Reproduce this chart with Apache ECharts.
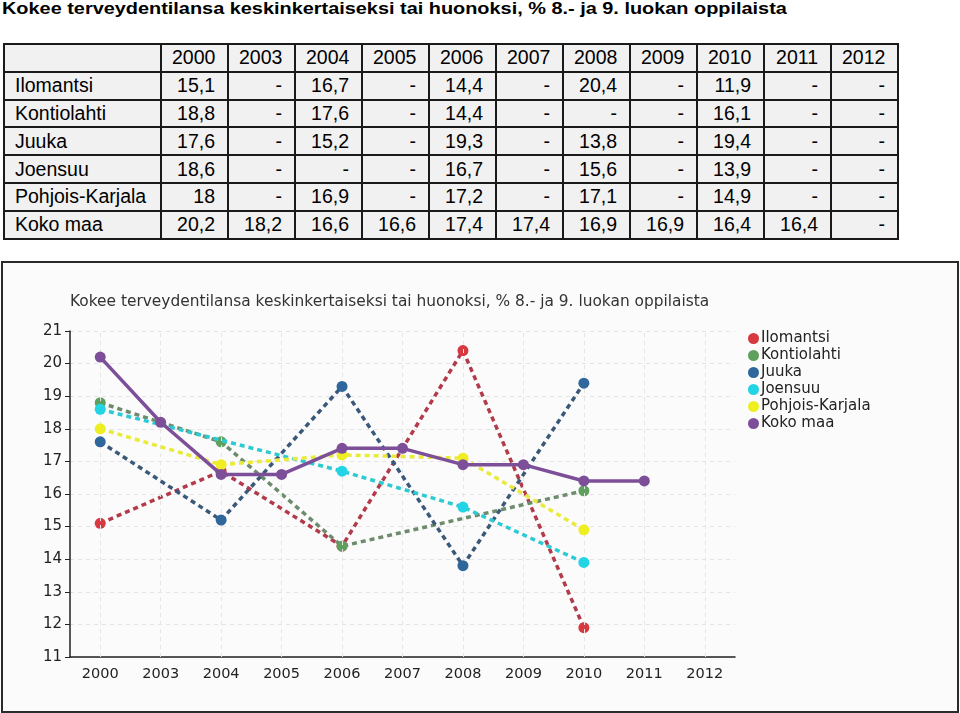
<!DOCTYPE html>
<html>
<head>
<meta charset="utf-8">
<script src="https://cdn.jsdelivr.net/npm/echarts@6/dist/echarts.min.js"></script>
<style>
  html, body { margin: 0; padding: 0; background: #fff; width: 960px; height: 713px; overflow: hidden; }
  #title { position: absolute; left: 2px; top: -1px; font: bold 17px "Liberation Sans", Arial, sans-serif; line-height: 20px; color: #000; white-space: nowrap; transform: scaleX(1.17); transform-origin: 0 0; }
  #tbl { position: absolute; left: 3px; top: 43px; width: 894px; border-collapse: collapse; table-layout: fixed; font: 19.5px "Liberation Sans", Arial, sans-serif; color: #000; }
  #tbl td { border: 2px solid #1a1a1a; background: #f1f1f1; height: 25.8px; padding: 0 12px 0 10px; text-align: right; white-space: nowrap; line-height: 25px; overflow: hidden; }
  #tbl td.name { text-align: left; }
  #box { position: absolute; left: 1px; top: 261px; width: 958px; height: 452px; border: 2px solid #2a2a2a; box-sizing: border-box; background: #fbfbfb; }
  #chart { width: 954px; height: 448px; }
</style>
</head>
<body>
<div id="title">Kokee terveydentilansa keskinkertaiseksi tai huonoksi, % 8.- ja 9. luokan oppilaista</div>
<table id="tbl"></table>
<div id="box"><div id="chart"></div></div>
<script>
const chartTitle = 'Kokee terveydentilansa keskinkertaiseksi tai huonoksi, % 8.- ja 9. luokan oppilaista';
const years = ['2000','2003','2004','2005','2006','2007','2008','2009','2010','2011','2012'];
const seriesNames = ['Ilomantsi','Kontiolahti','Juuka','Joensuu','Pohjois-Karjala','Koko maa'];
const ilomantsi   = [15.1, null, 16.7, null, 14.4, null, 20.4, null, 11.9, null, null];
const kontiolahti = [18.8, null, 17.6, null, 14.4, null, null, null, 16.1, null, null];
const juuka       = [17.6, null, 15.2, null, 19.3, null, 13.8, null, 19.4, null, null];
const joensuu     = [18.6, null, null, null, 16.7, null, 15.6, null, 13.9, null, null];
const pohjoisKarjala = [18, null, 16.9, null, 17.2, null, 17.1, null, 14.9, null, null];
const kokoMaa     = [20.2, 18.2, 16.6, 16.6, 17.4, 17.4, 16.9, 16.9, 16.4, 16.4, null];
const yTicks = [11,12,13,14,15,16,17,18,19,20,21];

const allData = [ilomantsi, kontiolahti, juuka, joensuu, pohjoisKarjala, kokoMaa];
const markerColors = ['#d8383f', '#5fa05f', '#2f669c', '#22d4e4', '#eeee22', '#7d4f98'];
const lineColors   = ['#b23a4a', '#6d8c6d', '#3a5878', '#2ccad2', '#eaea3a', '#7d4f98'];
const dashed = [true, true, true, true, true, false];

// Build table
const tbl = document.getElementById('tbl');
const colg = document.createElement('colgroup');
let c0 = document.createElement('col'); c0.style.width = '157px'; colg.appendChild(c0);
years.forEach(() => { const c = document.createElement('col'); c.style.width = '67px'; colg.appendChild(c); });
tbl.appendChild(colg);
const fmt = v => v === null ? '-' : String(v).replace('.', ',');
let hr = document.createElement('tr');
let th0 = document.createElement('td'); th0.className = 'name'; hr.appendChild(th0);
years.forEach(y => { const td = document.createElement('td'); td.textContent = y; hr.appendChild(td); });
tbl.appendChild(hr);
seriesNames.forEach((n, i) => {
  const tr = document.createElement('tr');
  const tdn = document.createElement('td'); tdn.className = 'name'; tdn.textContent = n; tr.appendChild(tdn);
  allData[i].forEach(v => { const td = document.createElement('td'); td.textContent = fmt(v); tr.appendChild(td); });
  tbl.appendChild(tr);
});

const chart = echarts.init(document.getElementById('chart'), null, { renderer: 'canvas' });
const font = '"DejaVu Sans", Verdana, sans-serif';
const series = seriesNames.map((n, i) => ({
  name: n, type: 'line', data: allData[i], connectNulls: true,
  symbol: 'circle', symbolSize: 11,
  itemStyle: { color: markerColors[i] },
  lineStyle: { color: lineColors[i], width: 3.5, type: dashed[i] ? [5, 4] : 'solid' },
  z: 3 + i
}));
// vertical dashed grid lines at category centres
series.push({
  name: 'grid', type: 'line', data: years.map(() => null), silent: true, z: 1,
  markLine: {
    silent: true, symbol: 'none', label: { show: false },
    lineStyle: { color: '#e4e4e4', type: [4, 4], width: 1 },
    data: years.map(y => ({ xAxis: y }))
  }
});
chart.setOption({
  backgroundColor: '#fbfbfb',
  animation: false,
  title: {
    text: chartTitle, left: 62, top: 26,
    textStyle: { fontFamily: font, fontSize: 15.4, fontWeight: 'normal', color: '#333' }
  },
  legend: {
    orient: 'vertical', left: 740, top: 62, itemGap: 0, itemWidth: 11, itemHeight: 11,
    icon: 'circle', data: seriesNames,
    textStyle: { fontFamily: font, fontSize: 15, lineHeight: 17, color: '#222', padding: [0, 0, 0, -3] }
  },
  grid: { left: 67, right: 222, top: 68, bottom: 54 },
  xAxis: {
    type: 'category', data: years, boundaryGap: true,
    axisLine: { lineStyle: { color: '#222', width: 1.5 } },
    axisTick: { alignWithLabel: true, length: 5, lineStyle: { color: '#222' } },
    axisLabel: { fontFamily: font, fontSize: 14.5, color: '#222', margin: 10 },
    splitLine: { show: false }
  },
  yAxis: {
    type: 'value', min: yTicks[0], max: yTicks[yTicks.length - 1], interval: 1,
    axisLine: { show: true, lineStyle: { color: '#222', width: 1.5 } },
    axisTick: { show: true, length: 5, lineStyle: { color: '#222' } },
    axisLabel: { fontFamily: font, fontSize: 15, color: '#222', margin: 8 },
    splitLine: { show: true, lineStyle: { color: '#e4e4e4', type: [4, 4] } }
  },
  series: series
});
</script>
</body>
</html>
